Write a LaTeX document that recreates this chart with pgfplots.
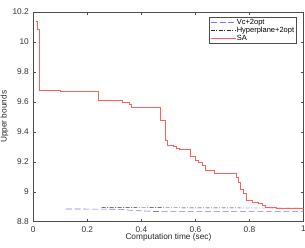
\documentclass[border=0pt]{standalone}
\usepackage{fontspec}
\setmainfont{Liberation Sans}
\usepackage{pgfplots}
\pgfplotsset{compat=1.18}
\definecolor{sared}{RGB}{255,95,95}
\definecolor{vcblue}{RGB}{120,120,255}
\begin{document}
\begin{tikzpicture}
\begin{axis}[
  name=ax,
  scale only axis,
  width=270.2pt, height=209.7pt,
  xmin=0, xmax=1, ymin=8.8, ymax=10.2,
  xtick={0,0.2,...,1.0}, ytick={8.8,9,9.2,9.4,9.6,9.8,10,10.2},
  xticklabels={0,0.2,0.4,0.6,0.8,1},
  yticklabels={8.8,9,9.2,9.4,9.6,9.8,10,10.2},
  tick align=inside, major tick length=3pt,
  tick style={black!70, line width=0.4pt},
  axis line style={black!70, line width=0.4pt},
  ticklabel style={font=\fontsize{8.3}{9}\selectfont, text=black!80},
  xticklabel style={yshift=-1pt},
  yticklabel style={xshift=-1pt},
  /pgf/number format/assume math mode=true,
  xlabel={Computation time (sec)}, ylabel={Upper bounds},
  label style={font=\fontsize{8.3}{9}\selectfont, text=black!85},
  xlabel style={yshift=5pt}, ylabel style={yshift=-2.5pt},
  legend style={at={(0.972,0.975)}, anchor=north east, font=\fontsize{7.5}{8.3}\selectfont,
    draw=black!70, line width=0.4pt, inner sep=1pt, row sep=0pt,
    nodes={inner sep=0.6pt}, cells={anchor=west}},
  legend cell align=left,
  legend image code/.code={\draw[#1] (0pt,0pt) -- (25pt,0pt);},
]
\addplot[vcblue, line width=0.6pt, dash pattern=on 6pt off 2.7pt] coordinates {
(0.121,8.885)(0.25,8.884)(0.33,8.882)(0.36,8.876)(0.45,8.868)(0.55,8.867)(1.0,8.867)};
\addlegendentry{Vc+2opt}
\addplot[black!85, line width=0.4pt, dash pattern=on 4pt off 1.5pt on 1pt off 1.5pt] coordinates {
(0.253,8.896)(0.40,8.895)(0.50,8.893)(0.70,8.892)(1.0,8.891)};
\addlegendentry{Hyperplane+2opt}
\addplot[sared, line width=0.5pt, const plot] coordinates {
(0.010,10.135)(0.013,10.087)(0.021,9.677)(0.100,9.672)(0.242,9.610)(0.330,9.595)(0.356,9.581)(0.361,9.564)(0.470,9.479)(0.487,9.343)(0.496,9.312)(0.519,9.301)(0.528,9.290)(0.540,9.285)(0.580,9.239)(0.599,9.212)(0.611,9.194)(0.626,9.179)(0.638,9.141)(0.669,9.125)(0.751,9.100)(0.757,9.063)(0.766,9.018)(0.778,8.990)(0.787,8.940)(0.809,8.930)(0.831,8.923)(0.846,8.907)(0.858,8.894)(0.900,8.893)(1.0,8.893)};
\addlegendentry{SA}
\node[anchor=south west, font=\fontsize{6}{6.5}\selectfont, text=black!80, inner sep=0.5pt] at (rel axis cs:0,1) {$\times10^{4}$};
\end{axis}
\pgfresetboundingbox
\path ([xshift=-33.3pt,yshift=-26.3pt]ax.south west) rectangle ([xshift=1.5pt,yshift=12pt]ax.north east);
\end{tikzpicture}
\end{document}
